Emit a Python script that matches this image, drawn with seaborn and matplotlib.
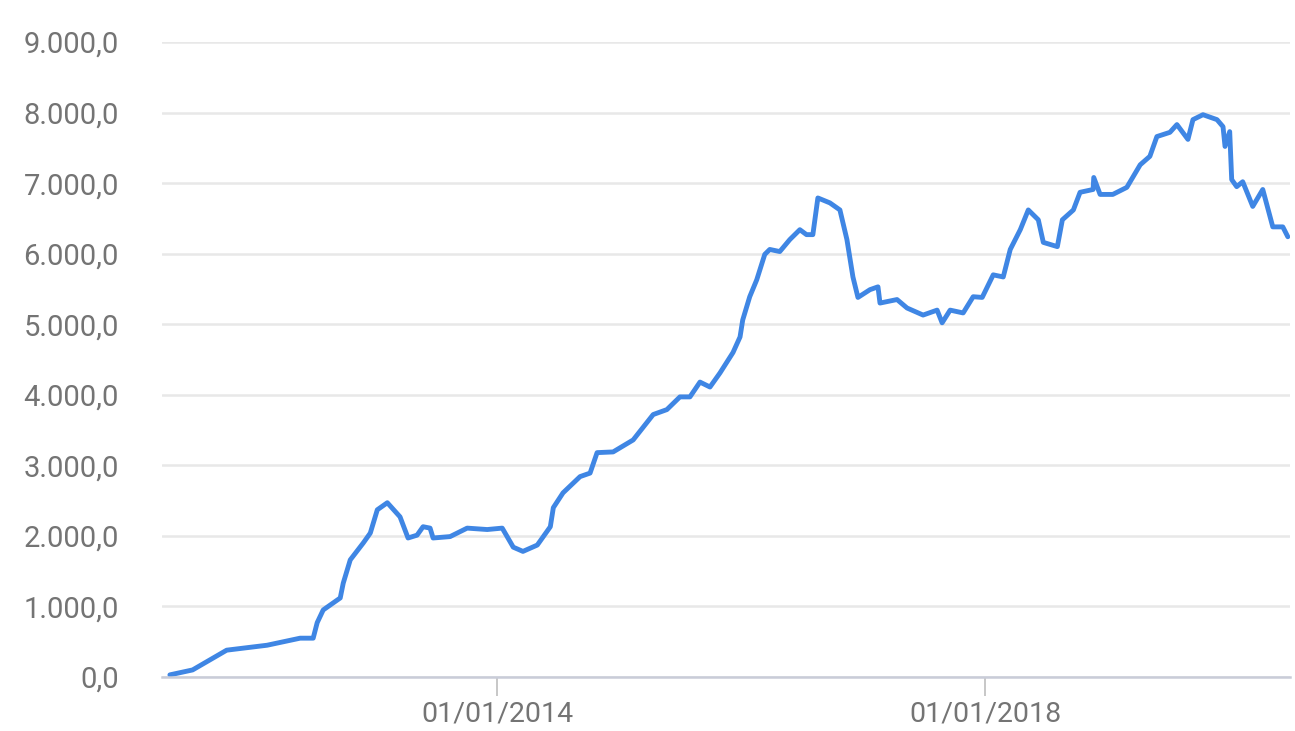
import matplotlib
matplotlib.use("Agg")
import matplotlib.pyplot as plt
import matplotlib.dates as mdates
from matplotlib.ticker import FuncFormatter
import pandas as pd
import seaborn as sns

# values
dates = [
    "2011-04-27", "2011-07-04", "2011-10-14", "2012-02-12", "2012-05-21", "2012-06-29",
    "2012-07-11", "2012-07-29", "2012-09-18", "2012-09-27", "2012-10-18", "2012-11-26",
    "2012-12-17", "2013-01-07", "2013-02-06", "2013-03-16", "2013-04-09", "2013-05-06",
    "2013-05-24", "2013-06-14", "2013-06-23", "2013-08-13", "2013-10-03", "2013-12-02",
    "2014-01-16", "2014-02-18", "2014-03-19", "2014-05-01", "2014-06-09", "2014-06-18",
    "2014-07-17", "2014-09-06", "2014-10-06", "2014-10-27", "2014-12-14", "2015-02-12",
    "2015-04-13", "2015-05-24", "2015-07-02", "2015-08-01", "2015-08-31", "2015-09-30",
    "2015-10-30", "2015-12-08", "2015-12-29", "2016-01-06", "2016-01-27", "2016-02-17",
    "2016-03-12", "2016-03-27", "2016-04-26", "2016-05-26", "2016-06-25", "2016-07-15",
    "2016-08-03", "2016-08-18", "2016-09-23", "2016-10-23", "2016-11-13", "2016-12-01",
    "2016-12-16", "2017-01-21", "2017-02-14", "2017-02-20", "2017-04-12", "2017-05-12",
    "2017-06-29", "2017-08-10", "2017-08-25", "2017-09-18", "2017-10-27", "2017-11-26",
    "2017-12-23", "2018-01-25", "2018-02-24", "2018-03-17", "2018-04-16", "2018-05-10",
    "2018-06-09", "2018-06-24", "2018-08-05", "2018-08-20", "2018-09-22", "2018-10-12",
    "2018-11-20", "2018-11-22", "2018-12-11", "2019-01-18", "2019-03-01", "2019-04-10",
    "2019-05-09", "2019-05-30", "2019-07-08", "2019-07-29", "2019-08-31", "2019-09-15",
    "2019-10-15", "2019-11-26", "2019-12-14", "2019-12-20", "2020-01-03", "2020-01-09",
    "2020-01-24", "2020-02-11", "2020-03-12", "2020-04-11", "2020-05-11", "2020-06-10",
    "2020-06-25",
]
values = [
    30, 100, 380, 450, 550, 550,
    770, 950, 1120, 1330, 1660, 1900,
    2040, 2370, 2470, 2270, 1970, 2010,
    2130, 2110, 1970, 1990, 2110, 2090,
    2110, 1840, 1780, 1870, 2130, 2400,
    2610, 2840, 2890, 3180, 3190, 3360,
    3720, 3790, 3970, 3970, 4180, 4110,
    4310, 4600, 4820, 5060, 5390, 5630,
    5990, 6060, 6030, 6200, 6340, 6270,
    6270, 6790, 6720, 6620, 6200, 5670,
    5380, 5490, 5530, 5300, 5350, 5230,
    5130, 5200, 5020, 5200, 5160, 5390,
    5380, 5700, 5670, 6060, 6340, 6620,
    6480, 6160, 6100, 6480, 6620, 6870,
    6910, 7080, 6840, 6840, 6940, 7260,
    7380, 7660, 7720, 7830, 7620, 7900,
    7970, 7900, 7800, 7520, 7730, 7050,
    6950, 7020, 6670, 6910, 6380, 6380,
    6240,
]
tick_dates = ["2014-01-01", "2018-01-01"]

df = pd.DataFrame({"date": pd.to_datetime(dates), "value": values})

sns.set_style("white")
plt.rcParams["font.family"] = ["Roboto", "DejaVu Sans"]

fig = plt.figure(figsize=(12.95, 7.31), dpi=100)
ax = fig.add_axes([0.125, 0.0739, 0.871, 0.8686])

sns.lineplot(data=df, x="date", y="value", ax=ax, color="#3f86e4", lw=3.5)

ax.set_ylim(0, 9000)
ax.set_xlim(pd.Timestamp("2011-04-03"), pd.Timestamp("2020-07-01"))
ax.set_yticks(range(0, 9001, 1000))
ax.yaxis.set_major_formatter(
    FuncFormatter(lambda v, _: f"{v:,.1f}".replace(",", "X").replace(".", ",").replace("X", ".")))
ax.set_xticks(pd.to_datetime(tick_dates))
ax.xaxis.set_major_formatter(mdates.DateFormatter("%d/%m/%Y"))

ax.grid(axis="y", color="#e8e8e8", lw=1.8)
ax.grid(axis="x", visible=False)
for s in ["top", "right", "left"]:
    ax.spines[s].set_visible(False)
ax.spines["bottom"].set_color("#c9ccd8")
ax.spines["bottom"].set_linewidth(1.8)

ax.tick_params(axis="y", length=0, pad=31, labelsize=21, labelcolor="#747474")
ax.tick_params(axis="x", length=14, width=1.2, color="#bdbdbd", pad=3,
               labelsize=20.5, labelcolor="#747474", bottom=True)
ax.set_xlabel("")
ax.set_ylabel("")

fig.savefig("out.png", dpi=100)
